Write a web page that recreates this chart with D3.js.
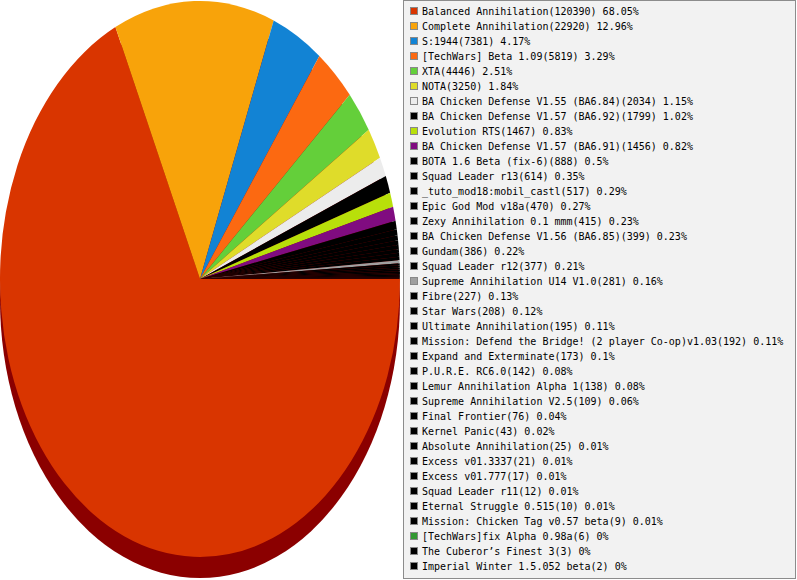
<!DOCTYPE html>
<html>
<head>
<meta charset="utf-8">
<script src="https://cdn.jsdelivr.net/npm/d3@7"></script>
<style>
  body { margin: 0; background: #fff; }
  svg { display: block; }
</style>
</head>
<body>
<svg></svg>
<script>
/*
  ==============================================================================
                                  Data
  ==============================================================================
*/

var mods = ["Balanced Annihilation", "Complete Annihilation", "S:1944", "[TechWars] Beta 1.09",
  "XTA", "NOTA", "BA Chicken Defense V1.55 (BA6.84)", "BA Chicken Defense V1.57 (BA6.92)",
  "Evolution RTS", "BA Chicken Defense V1.57 (BA6.91)", "BOTA 1.6 Beta (fix-6)", "Squad Leader r13",
  "_tuto_mod18:mobil_castl", "Epic God Mod v18a", "Zexy Annihilation 0.1 mmm",
  "BA Chicken Defense V1.56 (BA6.85)", "Gundam", "Squad Leader r12", "Supreme Annihilation U14 V1.0",
  "Fibre", "Star Wars", "Ultimate Annihilation", "Mission: Defend the Bridge! (2 player Co-op)v1.03",
  "Expand and Exterminate", "P.U.R.E. RC6.0", "Lemur Annihilation Alpha 1", "Supreme Annihilation V2.5",
  "Final Frontier", "Kernel Panic", "Absolute Annihilation", "Excess v01.3337", "Excess v01.777",
  "Squad Leader r11", "Eternal Struggle 0.515", "Mission: Chicken Tag v0.57 beta",
  "[TechWars]fix Alpha 0.98a", "The Cuberor’s Finest 3", "Imperial Winter 1.5.052 beta"];

var games = [120390, 22920, 7381, 5819, 4446, 3250, 2034, 1799, 1467, 1456, 888, 614, 517, 470, 415,
  399, 386, 377, 281, 227, 208, 195, 192, 173, 142, 138, 109, 76, 43, 25, 21, 17, 12, 10, 9, 6, 3, 2];

var colors = ["#d93500", "#f8a30a", "#1283d4", "#fc6911", "#64cf3a", "#dfdc2a", "#ececec", "#000000",
  "#b8e00a", "#800c80", "#000000", "#000000", "#000000", "#000000", "#000000", "#000000", "#000000",
  "#000000", "#a0a0a0", "#000000", "#000000", "#000000", "#000000", "#000000", "#000000", "#000000",
  "#000000", "#000000", "#000000", "#000000", "#000000", "#000000", "#000000", "#000000", "#000000",
  "#339933", "#000000", "#000000"];

/*
  ==============================================================================
                                  Variables
  ==============================================================================
*/

var pic = d3.select("svg").attr("width", 797).attr("height", 580);

// pie centre, radii and the depth of the 3d edge
var cx = 200, cy = 279, rx = 200, ry = 278, depth = 21;

var total = d3.sum(games);
var rows = mods.map(function(m, i){ return {name: m, value: games[i], color: colors[i]}; });

/*
  ==============================================================================
                                  Pie
  ==============================================================================
*/

var pie = d3.pie().sort(null).value(function(d){ return d.value; })
  .startAngle(Math.PI / 2).endAngle(Math.PI / 2 + 2 * Math.PI);
var arc = d3.arc().innerRadius(0).outerRadius(ry);

// side of the pie, only the front (red) part shows
pic.append("ellipse")
  .attr("cx", cx).attr("cy", cy + depth)
  .attr("rx", rx).attr("ry", ry)
  .attr("fill", "#8b0000");

var face = pic.append("g")
  .attr("transform", "translate(" + cx + "," + cy + ") scale(" + (rx / ry) + ",1)");

face.selectAll("path").data(pie(rows)).enter()
  .append("path")
  .attr("d", arc)
  .attr("fill", function(d){ return d.data.color; });

/*
  ==============================================================================
                                  Legend
  ==============================================================================
*/

pic.append("rect")
  .attr("x", 403.5).attr("y", 0.5)
  .attr("width", 392).attr("height", 578)
  .attr("fill", "#f2f2f2").attr("stroke", "#8c8c8c");

var y = d3.scaleBand().domain(d3.range(rows.length)).range([4, 4 + 15 * rows.length]);

var items = pic.selectAll("g.item").data(rows).enter()
  .append("g").attr("class", "item")
  .attr("transform", function(d, i){ return "translate(410," + y(i) + ")"; });

items.append("rect")
  .attr("x", 0.5).attr("y", 3.5)
  .attr("width", 7).attr("height", 7)
  .attr("fill", function(d){ return d.color; })
  .attr("stroke", "#888");

items.append("text")
  .attr("x", 12).attr("y", 11)
  .attr("font-family", "DejaVu Sans Mono, monospace")
  .attr("font-size", 10)
  .attr("fill", "#000")
  .text(function(d){
    var pct = Math.round(d.value / total * 10000) / 100;
    return d.name + "(" + d.value + ") " + pct + "%";
  });
</script>
</body>
</html>
